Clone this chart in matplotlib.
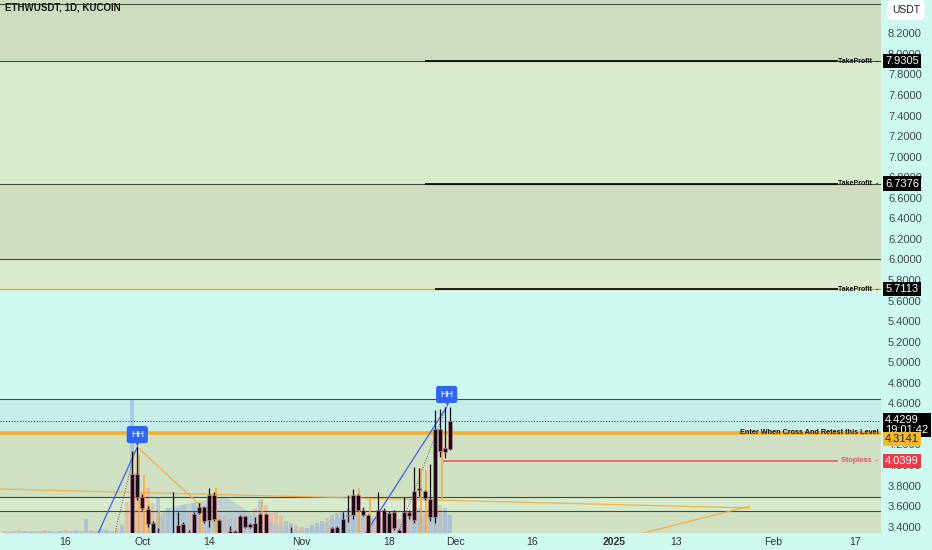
import numpy as np
import pandas as pd
import matplotlib
matplotlib.use("Agg")
import matplotlib.pyplot as plt
from matplotlib.transforms import offset_copy

plt.rcParams['font.family'] = ['Liberation Sans', 'DejaVu Sans']

base = pd.Timestamp("2024-09-16")
dates = pd.date_range("2024-09-04", "2024-11-30", freq="D")

# daily candles ETHW/USDT (many of them sit below the visible price range)
opens = [3.12, 3.10, 3.15, 3.08, 3.05, 3.10, 3.14, 3.09, 3.06, 3.02, 3.05, 3.08, 3.11,
         3.07, 3.04, 3.08, 3.12, 3.15, 3.10, 3.06, 3.09, 3.13, 3.10, 3.08, 3.12,
         3.10, 3.91, 3.69, 3.57, 3.44, 3.25, 3.30, 3.15, 3.20, 3.28, 3.30, 3.35, 3.25,
         3.53, 3.59, 3.47, 3.71, 3.47, 3.25, 3.30, 3.36, 3.30, 3.50, 3.40, 3.44, 3.26, 3.52,
         3.25, 3.18, 3.14, 3.10, 3.19, 3.25, 3.12, 3.05, 3.08, 3.11, 3.16, 3.21,
         3.20, 3.25, 3.30, 3.50, 3.51, 3.71, 3.56, 3.51, 3.25, 3.20, 3.56, 3.25,
         3.54, 3.37, 3.25, 3.54, 3.47, 3.76, 3.75, 3.67, 3.49, 4.35, 4.13, 4.16]
highs = [3.16, 3.17, 3.18, 3.12, 3.13, 3.17, 3.18, 3.12, 3.09, 3.08, 3.11, 3.14, 3.15,
         3.10, 3.11, 3.15, 3.19, 3.18, 3.13, 3.12, 3.16, 3.17, 3.14, 3.15, 3.22,
         4.14, 4.18, 3.72, 3.60, 3.46, 3.39, 3.32, 3.30, 3.74, 3.54, 3.45, 3.37, 3.54,
         3.63, 3.60, 3.78, 3.74, 3.48, 3.30, 3.41, 3.37, 3.51, 3.50, 3.44, 3.49, 3.53, 3.53,
         3.28, 3.24, 3.20, 3.22, 3.40, 3.28, 3.16, 3.12, 3.15, 3.20, 3.24, 3.28,
         3.40, 3.41, 3.54, 3.71, 3.77, 3.72, 3.59, 3.52, 3.30, 3.74, 3.58, 3.55,
         3.56, 3.38, 3.69, 3.56, 3.98, 3.97, 3.76, 4.01, 4.54, 4.55, 4.56, 4.56]
lows = [3.07, 3.06, 3.05, 3.02, 3.01, 3.07, 3.06, 3.03, 2.99, 2.98, 3.02, 3.05, 3.04,
        3.01, 3.00, 3.05, 3.09, 3.08, 3.03, 3.02, 3.06, 3.07, 3.05, 3.04, 3.06,
        3.05, 3.66, 3.56, 3.40, 3.18, 3.15, 3.10, 3.08, 3.15, 3.20, 3.25, 3.20, 3.20,
        3.52, 3.44, 3.40, 3.46, 3.20, 3.15, 3.18, 3.20, 3.25, 3.39, 3.39, 3.20, 3.22, 3.20,
        3.12, 3.10, 3.05, 3.06, 3.10, 3.08, 3.00, 2.98, 3.02, 3.06, 3.10, 3.15,
        3.15, 3.20, 3.25, 3.45, 3.48, 3.55, 3.50, 3.20, 3.10, 3.15, 3.20, 3.20,
        3.37, 3.20, 3.20, 3.48, 3.44, 3.70, 3.66, 3.46, 3.44, 4.08, 4.07, 4.15]
closes = [3.10, 3.15, 3.08, 3.05, 3.10, 3.14, 3.09, 3.06, 3.02, 3.05, 3.08, 3.11, 3.07,
          3.04, 3.08, 3.12, 3.15, 3.10, 3.06, 3.09, 3.13, 3.10, 3.08, 3.12, 3.10,
          3.91, 3.69, 3.58, 3.43, 3.20, 3.30, 3.15, 3.20, 3.28, 3.42, 3.43, 3.25, 3.52,
          3.59, 3.46, 3.71, 3.48, 3.25, 3.22, 3.36, 3.34, 3.50, 3.40, 3.43, 3.26, 3.52, 3.25,
          3.18, 3.14, 3.10, 3.19, 3.25, 3.12, 3.05, 3.08, 3.11, 3.16, 3.21, 3.20,
          3.39, 3.40, 3.48, 3.51, 3.71, 3.56, 3.51, 3.25, 3.20, 3.56, 3.25, 3.53,
          3.39, 3.25, 3.54, 3.50, 3.75, 3.78, 3.68, 3.49, 4.35, 4.14, 4.17, 4.4299]

volumes = [2, 1, 2, 3, 2, 1, 2, 2, 3, 2, 1, 2,
           3, 2, 3, 2, 14, 3, 2, 4, 3, 2, 5, 8, 31,
           133, 60, 40, 45, 30, 36, 20, 25, 20,
           25, 28, 22, 30, 26, 24, 35, 30, 20,
           18, 15, 14, 20, 22, 18, 25, 33, 28,
           20, 22, 18, 12, 10, 8, 6, 5, 8, 10, 12, 15,
           18, 20, 22, 25, 28, 22, 18, 15, 12,
           20, 18, 15, 16, 14, 22, 20, 28, 25, 22, 30,
           35, 28, 25, 18]
volume_ma = [2, 2, 2, 2, 2, 2, 2, 2, 2, 2, 2, 2,
             2, 2, 2, 2, 2, 2, 2, 2, 2, 2, 2, 2, 2,
             3, 3, 3, 4,
             5, 14, 22, 26, 27, 28, 29, 30, 31, 32, 33, 34, 35, 36, 36,
             34, 30, 27, 24, 21, 18, 15, 13, 11, 9, 7, 5, 4, 3, 3,
             4, 5, 7, 10, 12, 14, 15, 16, 17, 18, 18, 17, 16, 15, 15,
             15, 14, 14, 14, 15, 16, 17, 18, 18, 19, 20, 20, 20, 19]

# orange overlay bars
overlay_days = [14, 15, 16, 18, 26, 29, 38, 57, 59, 69, 70, 73]
overlay_tops = [4.10, 3.90, 3.62, 3.55, 3.64, 3.78, 3.67, 3.78, 3.68, 3.97, 3.95, 4.31]
overlay_bottoms = [3.20, 3.20, 3.20, 3.20, 3.20, 3.20, 3.20, 3.20, 3.20, 3.20, 3.20, 3.66]

# levels
top_line = 8.485
take_profits = [7.9305, 6.7376, 5.7113]
tp_start = [70, 70, 72]
thin_lines = [6.0, 4.643, 3.685, 3.551]
last_price = 4.4299
entry_level = 4.3141
stop_level = 4.0399
zone_edges = [8.524, 7.9305, 6.7376, 6.0, 5.7113, 4.643, 4.3141, 3.685, 3.551, 3.339]
zone_colors = ['#cfdcc0', '#d8eacb', '#cfdcc0', '#d8eacb', '#cdfbf2',
               '#c6eee8', '#d0e0c2', '#d8eacc', '#d0e0c2']

# drawings (day offset, price)
blue_lines = [([6.3, 14.0], [3.33, 4.175]), ([58.4, 74.3], [3.33, 4.565])]
dotted_lines = [([9.6, 13.5], [3.33, 4.136]), ([64.8, 74.1], [3.33, 4.55])]
orange_lines = [([14.0, 26.2], [4.175, 3.612]), ([-12.8, 133.4], [3.767, 3.582]),
                ([112.0, 133.4], [3.331, 3.60])]
hh_points = [(14.0, 4.175), (74.3, 4.565)]

tick_dates = ['2024-09-16', '2024-10-01', '2024-10-14', '2024-11-01', '2024-11-18', '2024-12-01',
              '2024-12-16', '2025-01-01', '2025-01-13', '2025-02-01', '2025-02-17']
tick_labels = ['16', 'Oct', '14', 'Nov', '18', 'Dec', '16', '2025', '13', 'Feb', '17']

days = np.array((dates - base).days)
o = np.array(opens)
c = np.array(closes)

fig = plt.figure(figsize=(9.32, 5.5), dpi=100, facecolor='#cef9f1')
ax = fig.add_axes([0, 17 / 550, 881 / 932, 533 / 550])
ax.set_facecolor('#cdfbf2')

for i in range(len(zone_colors)):
    ax.axhspan(zone_edges[i + 1], zone_edges[i], color=zone_colors[i], lw=0, zorder=0)

xt = ax.get_xaxis_transform()
yt = ax.get_yaxis_transform()

# volume
vcol = ['#8fb2df' if c[i] >= o[i] else '#f0a58c' for i in range(len(days))]
ax.bar(days, np.array(volumes) / 533, width=0.8, bottom=0, color=vcol, alpha=0.55,
       transform=xt, zorder=1)
ax.fill_between(days, 0, np.array(volume_ma) / 533, color='#a9c0d8', alpha=0.55,
                lw=0, transform=xt, zorder=1)

# horizontal levels
line_c = '#3d4d3d'
ax.axhline(top_line, color=line_c, lw=0.8, zorder=2)
for p in thin_lines:
    ax.axhline(p, color=line_c, lw=0.8, zorder=2)
ax.axhline(take_profits[0], color=line_c, lw=0.8, zorder=2)
ax.axhline(take_profits[1], color=line_c, lw=0.8, zorder=2)
ax.axhline(take_profits[2], color='#f0a020', lw=1.0, zorder=2)
for p, s in zip(take_profits, tp_start):
    ax.hlines(p, s, 150.5, color='black', lw=1.2, zorder=2.2)
ax.axhline(last_price, color='#4a5a5a', lw=0.8, ls=(0, (1, 1.5)), zorder=2)
ax.axhline(entry_level, color='#f0b030', lw=2.6, zorder=2.1)
ax.hlines(stop_level, 73.6, 150.5, color='#e8505b', lw=1.1, zorder=2.2)

# trend drawings
for xs, ys in orange_lines:
    ax.plot(xs, ys, color='#f4a93a', lw=0.9, alpha=0.85, zorder=2.5)
for xs, ys in dotted_lines:
    ax.plot(xs, ys, color='#556060', lw=0.7, ls=(0, (1, 1.5)), zorder=2.5)
for xs, ys in blue_lines:
    ax.plot(xs, ys, color='#3a62e8', lw=0.9, zorder=2.6)

ax.vlines(np.array(overlay_days) + 0.3, overlay_bottoms, overlay_tops,
          color='#f4a93a', lw=1.4, alpha=0.8, zorder=2.7)

# candles
ax.vlines(days, lows, highs, color='#1c0b16', lw=0.9, zorder=4)
ax.bar(days, np.abs(c - o), bottom=np.minimum(o, c), width=0.78, color='#1c0b16',
       edgecolor='#d4909f', linewidth=0.4, zorder=4.1)

# HH labels
tri_tr = offset_copy(ax.transData, fig=fig, y=3, units='points')
for d, p in hh_points:
    ax.plot(d, p, marker='v', ms=5, color='#2f66f0', mec='none', transform=tri_tr, zorder=6)
    ax.annotate('HH', xy=(d, p), xytext=(0, 9), textcoords='offset points', ha='center',
                va='center', color='white', fontsize=6.5,
                bbox=dict(boxstyle='round,pad=0.45,rounding_size=0.25', fc='#2f66f0', ec='none'),
                zorder=6)

# level texts
for p in take_profits:
    ax.text(0.997, p, 'TakeProfit  -', transform=yt, ha='right', va='center', fontsize=5,
            fontweight='bold', color='#111111', zorder=7)
ax.text(0.997, entry_level, 'Enter When Cross And Retest this Level', transform=yt,
        ha='right', va='center', fontsize=5.2, fontweight='bold', color='#111111', zorder=7)
ax.text(0.997, stop_level, 'Stoploss  -', transform=yt, ha='right', va='center', fontsize=5.2,
        fontweight='bold', color='#e8505b', zorder=7)

ax.set_xlim(-12.77, 158.97)
ax.set_ylim(zone_edges[-1], zone_edges[0])

ax.yaxis.tick_right()
ax.set_yticks(np.arange(3.4, 8.21, 0.2))
ax.set_yticklabels(['%.4f' % v for v in np.arange(3.4, 8.21, 0.2)])
ax.tick_params(axis='y', length=0, pad=5, labelsize=8, labelcolor='#3a4a4a')
tick_pos = [(pd.Timestamp(t) - base).days for t in tick_dates]
ax.set_xticks(tick_pos)
ax.set_xticklabels(tick_labels)
ax.tick_params(axis='x', length=0, pad=3, labelsize=7.5, labelcolor='#333333')
for lab in ax.get_xticklabels():
    if lab.get_text() == '2025':
        lab.set_fontweight('bold')
for s in ax.spines.values():
    s.set_visible(False)

# price tags on the axis
def tag(price, text, fc, tc, dy=0):
    ax.annotate(text, xy=(1, price), xycoords=yt, xytext=(3, dy), textcoords='offset points',
                ha='left', va='center', fontsize=8, color=tc, linespacing=1.0,
                bbox=dict(boxstyle='square,pad=0.2', fc=fc, ec='none'),
                annotation_clip=False, zorder=10)

tag(take_profits[0], '7.9305', 'black', 'white')
tag(take_profits[1], '6.7376', 'black', 'white')
tag(take_profits[2], '5.7113', 'black', 'white')
tag(last_price, '4.4299\n19:01:42', 'black', 'white', dy=-3)
tag(entry_level, '4.3141', '#f5b82e', '#222222', dy=-4.5)
tag(stop_level, '4.0399', '#f23645', 'white')

fig.text(5 / 932, 1 - 8 / 550, 'ETHWUSDT, 1D, KUCOIN', fontsize=7, fontweight='bold',
         color='#1a1a1a', va='center')
fig.text(906 / 932, 1 - 10 / 550, 'USDT', ha='center', va='center', fontsize=7.5,
         color='#222222', bbox=dict(boxstyle='round,pad=0.45', fc='white', ec='none'))

fig.savefig('out.png', dpi=100, facecolor=fig.get_facecolor())
